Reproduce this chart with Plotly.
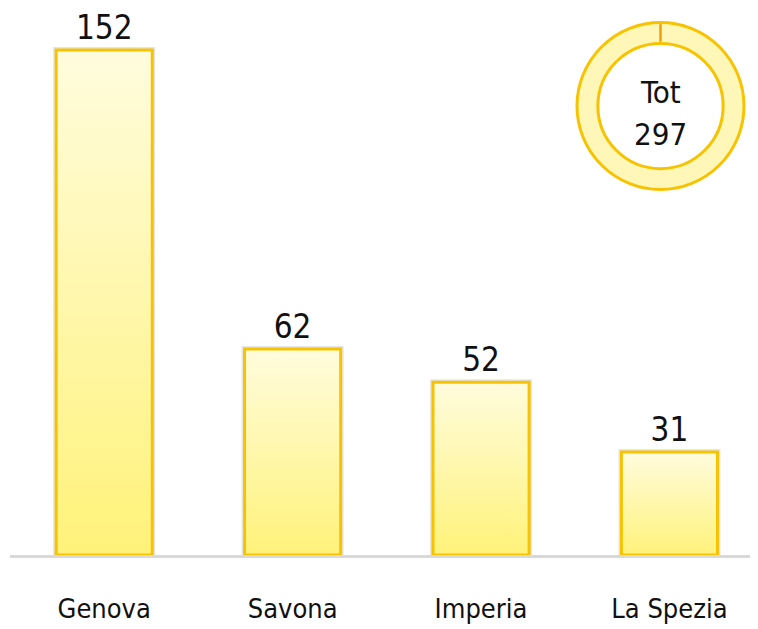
import plotly.graph_objects as go

categories = ["Genova", "Savona", "Imperia", "La Spezia"]
values = [152, 62, 52, 31]
total_caption = "Tot"

FONT = "DejaVu Sans Condensed, Liberation Sans Narrow, DejaVu Sans, sans-serif"
GOLD = "#F7C300"
ORANGE = "#EE9F0A"
TOP = "#FFFCDD"
BOTTOM = "#FFF27A"
HALF = 0.255

# the page places the figure 8px from the top-left corner
W, H = 750, 621
ML, MR, MT, MB = 2, 0, 0, 74
PW, PH = W - ML - MR, H - MT - MB

fig = go.Figure()
idx = list(range(len(categories)))

fig.add_trace(go.Bar(
    x=idx, y=values, width=2 * HALF,
    marker=dict(color="#FFF6A8", line=dict(color="rgba(0,0,0,0.10)", width=6)),
    text=[str(v) for v in values], textposition="outside",
    textfont=dict(family=FONT, size=33, color="#111111"),
    cliponaxis=False, hoverinfo="skip", showlegend=False,
))
for i, v in zip(idx, values):
    fig.add_trace(go.Scatter(
        x=[i - HALF, i + HALF, i + HALF, i - HALF, i - HALF],
        y=[0, 0, v, v, 0],
        mode="lines", fill="toself",
        fillgradient=dict(type="vertical", colorscale=[[0, BOTTOM], [1, TOP]]),
        line=dict(color=GOLD, width=3),
        showlegend=False, hoverinfo="skip",
    ))

# donut with total
total = sum(values)
cx_px, cy_px, r_px = 652.5, 98, 83.5
cxp = (cx_px - ML) / PW
cyp = (MT + PH - cy_px) / PH
dx = r_px / PW
dy = r_px / PH
HOLE = 0.75
fig.add_trace(go.Pie(
    values=[total], labels=[total_caption], hole=HOLE, sort=False,
    domain=dict(x=[cxp - dx, cxp + dx], y=[cyp - dy, cyp + dy]),
    marker=dict(colors=["#FFF7B8"], line=dict(color=GOLD, width=3)),
    textinfo="none", showlegend=False, hoverinfo="skip",
))
fig.add_shape(type="line", xref="paper", yref="paper",
              x0=cxp, x1=cxp, y0=cyp + dy - 0.003, y1=cyp + dy * HOLE + 0.003,
              line=dict(color=ORANGE, width=2.5))
fig.add_annotation(x=cxp, y=cyp + 14 / PH, xref="paper", yref="paper",
                   xanchor="center", yanchor="middle",
                   text=total_caption, showarrow=False,
                   font=dict(family=FONT, size=31, color="#111111"))
fig.add_annotation(x=cxp, y=cyp - 28 / PH, xref="paper", yref="paper",
                   xanchor="center", yanchor="middle",
                   text=str(total), showarrow=False,
                   font=dict(family=FONT, size=31, color="#111111"))

fig.update_layout(
    width=W, height=H,
    margin=dict(l=ML, r=MR, t=MT, b=MB),
    paper_bgcolor="white", plot_bgcolor="white",
    showlegend=False,
    xaxis=dict(tickvals=idx, ticktext=categories, range=[-0.5, 3.47],
               showgrid=False, zeroline=False, showline=True,
               linecolor="#D9D9D9", linewidth=3, ticks="",
               ticklabelstandoff=28,
               tickfont=dict(family=FONT, size=27, color="#111111")),
    yaxis=dict(range=[0, PH / 3.322], visible=False, showgrid=False),
)

fig.write_html("out.html")
